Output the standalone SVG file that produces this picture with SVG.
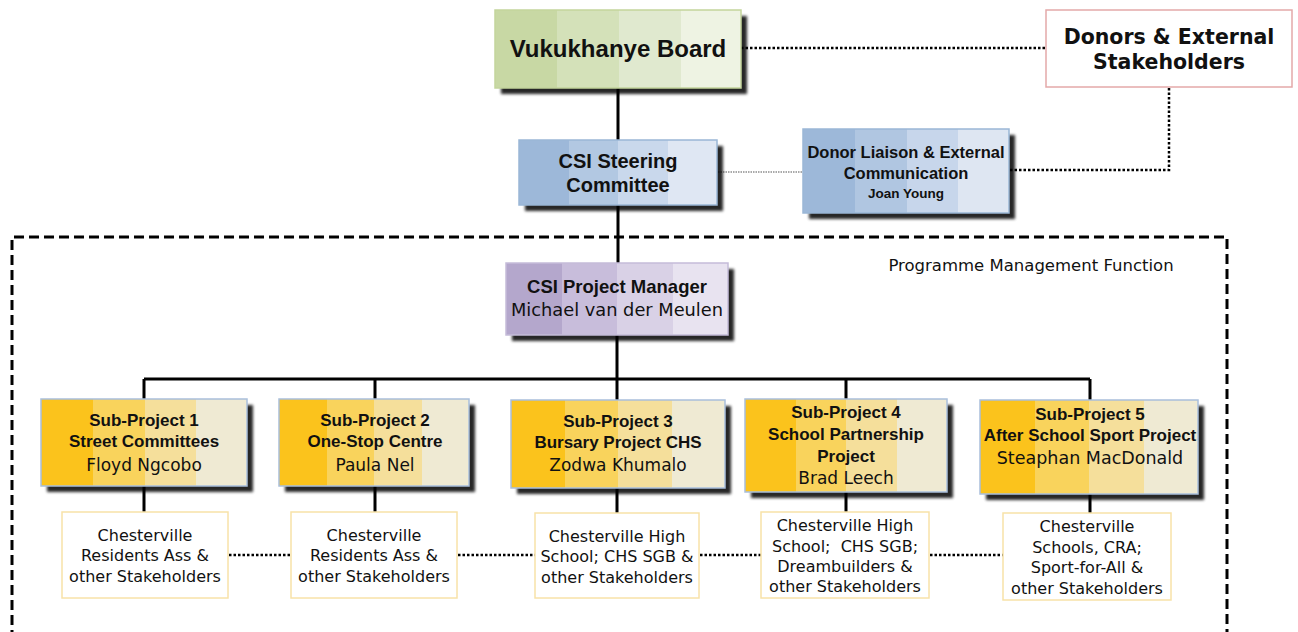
<svg xmlns="http://www.w3.org/2000/svg" width="1298" height="632" viewBox="0 0 1298 632">
<defs>
<filter id="sh" x="-10%" y="-10%" width="130%" height="140%">
<feGaussianBlur in="SourceAlpha" stdDeviation="1.5"/>
<feOffset dx="6" dy="6" result="o"/>
<feComponentTransfer><feFuncA type="linear" slope="0.85"/></feComponentTransfer>
<feMerge><feMergeNode/><feMergeNode in="SourceGraphic"/></feMerge>
</filter>
</defs>
<style>
.b{font-family:"Liberation Sans",Arial,sans-serif;font-weight:bold;fill:#111;text-anchor:middle}
.r{font-family:"DejaVu Sans",Verdana,sans-serif;fill:#111;text-anchor:middle}
.sk{font-family:"DejaVu Sans",Verdana,sans-serif;font-size:16px;fill:#111;text-anchor:middle}
.solid{stroke:#000;stroke-width:3;fill:none}
.dot{stroke:#000;stroke-width:2.5;stroke-dasharray:2.5 2;fill:none}
.g1{fill:#fbc31c}.g2{fill:#f9d35c}.g3{fill:#f5df9b}.g4{fill:#efead3}
.bd{fill:none;stroke:#a9bfdc;stroke-width:1.5}
.stk{fill:#fff;stroke:#f8e2a8;stroke-width:1.5}
</style>
<rect width="1298" height="632" fill="#fff"/>

<g id="connectors">
<path class="solid" d="M618 88V140M618 205V263M617 335V379M144 379H1090M144 379V399M375 379V399M617 379V400M846 379V399M1090 379V400"/>
<path class="solid" d="M144 486V512M375 486V512M617 488V513M846 492V512M1090 494V513"/>
<path class="dot" d="M741 48H1046M1169 88V170H1010"/>
<path d="M718 172H803" stroke="#555" stroke-width="1.2" stroke-dasharray="1.5 1" fill="none"/>
<path class="dot" d="M229 555H291M458 555H535M700 555H761M930 555H1003"/>
<path d="M12 640V237H1227V640" stroke="#000" stroke-width="3" stroke-dasharray="10 5" fill="none"/>
</g>

<g id="board">
<g filter="url(#sh)">
<rect x="495" y="10" width="246" height="78" fill="#c8d8a4"/>
</g>
<rect x="557" y="10" width="62" height="78" fill="#d4e1b9"/>
<rect x="619" y="10" width="62" height="78" fill="#e0e9cf"/>
<rect x="681" y="10" width="60" height="78" fill="#eef3e3"/>
<rect x="495" y="10" width="246" height="78" fill="none" stroke="#c3d59c" stroke-width="1.5"/>
<text class="b" x="618" y="57" font-size="24">Vukukhanye Board</text>
</g>

<g id="donors">
<rect x="1046" y="10" width="246" height="77" fill="#fff" stroke="#e4a9a9" stroke-width="1.5"/>
<text class="r" x="1169" y="44" font-size="20.5" font-weight="bold">Donors &amp; External</text>
<text class="r" x="1169" y="69" font-size="20.5" font-weight="bold">Stakeholders</text>
</g>

<g id="steering">
<g filter="url(#sh)">
<rect x="519" y="140" width="198" height="65" fill="#9db8d9"/>
</g>
<rect x="569" y="140" width="50" height="65" fill="#b2c8e2"/>
<rect x="618" y="140" width="50" height="65" fill="#c9d8ec"/>
<rect x="668" y="140" width="49" height="65" fill="#dfe7f3"/>
<rect x="519" y="140" width="198" height="65" fill="none" stroke="#9ab7d6" stroke-width="1.5"/>
<text class="b" x="618" y="168" font-size="20">CSI Steering</text>
<text class="b" x="618" y="192" font-size="20">Committee</text>
</g>

<g id="liaison">
<g filter="url(#sh)">
<rect x="803" y="129" width="206" height="84" fill="#9db8d9"/>
</g>
<rect x="855" y="129" width="52" height="84" fill="#b0c6e1"/>
<rect x="907" y="129" width="51" height="84" fill="#c7d6eb"/>
<rect x="958" y="129" width="51" height="84" fill="#dee6f2"/>
<rect x="803" y="129" width="206" height="84" fill="none" stroke="#9ab7d6" stroke-width="1.5"/>
<text class="b" x="906" y="158" font-size="16.5">Donor Liaison &amp; External</text>
<text class="b" x="906" y="179" font-size="16.5">Communication</text>
<text class="b" x="906" y="198" font-size="13.5">Joan Young</text>
</g>

<g id="pmf-label">
<text x="1031" y="271" font-family="DejaVu Sans,Verdana,sans-serif" font-size="16.5" fill="#111" text-anchor="middle">Programme Management Function</text>
</g>

<g id="pm">
<g filter="url(#sh)">
<rect x="506" y="263" width="222" height="72" fill="#b4a7cc"/>
</g>
<rect x="562" y="263" width="56" height="72" fill="#c8bddb"/>
<rect x="617" y="263" width="56" height="72" fill="#d9d1e6"/>
<rect x="673" y="263" width="55" height="72" fill="#e8e3f0"/>
<rect x="506" y="263" width="222" height="72" fill="none" stroke="#c5bcd9" stroke-width="1.5"/>
<text class="b" x="617" y="293" font-size="18.5">CSI Project Manager</text>
<text class="r" x="617" y="316" font-size="17.8">Michael van der Meulen</text>
</g>

<g id="sp1">
<g filter="url(#sh)"><rect x="41" y="399" width="206" height="87" class="g1"/></g>
<rect x="93" y="399" width="52" height="87" class="g2"/>
<rect x="145" y="399" width="51" height="87" class="g3"/>
<rect x="196" y="399" width="51" height="87" class="g4"/>
<rect x="41" y="399" width="206" height="87" class="bd"/>
<text class="b" x="144" y="426" font-size="17">Sub-Project 1</text>
<text class="b" x="144" y="447" font-size="17">Street Committees</text>
<text class="r" x="144" y="471" font-size="17">Floyd Ngcobo</text>
</g>

<g id="sp2">
<g filter="url(#sh)"><rect x="279" y="399" width="190" height="87" class="g1"/></g>
<rect x="327" y="399" width="48" height="87" class="g2"/>
<rect x="374" y="399" width="48" height="87" class="g3"/>
<rect x="422" y="399" width="47" height="87" class="g4"/>
<rect x="279" y="399" width="190" height="87" class="bd"/>
<text class="b" x="375" y="426" font-size="17">Sub-Project 2</text>
<text class="b" x="375" y="447" font-size="17">One-Stop Centre</text>
<text class="r" x="375" y="471" font-size="17">Paula Nel</text>
</g>

<g id="sp3">
<g filter="url(#sh)"><rect x="511" y="400" width="214" height="88" class="g1"/></g>
<rect x="565" y="400" width="54" height="88" class="g2"/>
<rect x="618" y="400" width="54" height="88" class="g3"/>
<rect x="672" y="400" width="53" height="88" class="g4"/>
<rect x="511" y="400" width="214" height="88" class="bd"/>
<text class="b" x="618" y="427" font-size="17">Sub-Project 3</text>
<text class="b" x="618" y="448" font-size="17">Bursary Project CHS</text>
<text class="r" x="618" y="471" font-size="17">Zodwa Khumalo</text>
</g>

<g id="sp4">
<g filter="url(#sh)"><rect x="745" y="399" width="202" height="93" class="g1"/></g>
<rect x="796" y="399" width="51" height="93" class="g2"/>
<rect x="846" y="399" width="51" height="93" class="g3"/>
<rect x="897" y="399" width="50" height="93" class="g4"/>
<rect x="745" y="399" width="202" height="93" class="bd"/>
<text class="b" x="846" y="418" font-size="17">Sub-Project 4</text>
<text class="b" x="846" y="440" font-size="17">School Partnership</text>
<text class="b" x="846" y="462" font-size="17">Project</text>
<text class="r" x="846" y="484" font-size="17">Brad Leech</text>
</g>

<g id="sp5">
<g filter="url(#sh)"><rect x="980" y="400" width="218" height="94" class="g1"/></g>
<rect x="1035" y="400" width="55" height="94" class="g2"/>
<rect x="1089" y="400" width="55" height="94" class="g3"/>
<rect x="1144" y="400" width="54" height="94" class="g4"/>
<rect x="980" y="400" width="218" height="94" class="bd"/>
<text class="b" x="1090" y="420" font-size="17">Sub-Project 5</text>
<text class="b" x="1090" y="441" font-size="17">After School Sport Project</text>
<text class="r" x="1090" y="464" font-size="17.5">Steaphan MacDonald</text>
</g>

<g id="st1">
<rect x="62" y="512" width="166" height="86" class="stk"/>
<text class="sk" x="145" y="541">Chesterville</text>
<text class="sk" x="145" y="561">Residents Ass &amp;</text>
<text class="sk" x="145" y="582">other Stakeholders</text>
</g>

<g id="st2">
<rect x="291" y="512" width="166" height="86" class="stk"/>
<text class="sk" x="374" y="541">Chesterville</text>
<text class="sk" x="374" y="561">Residents Ass &amp;</text>
<text class="sk" x="374" y="582">other Stakeholders</text>
</g>

<g id="st3">
<rect x="535" y="513" width="164" height="85" class="stk"/>
<text class="sk" x="617" y="542">Chesterville High</text>
<text class="sk" x="617" y="562">School; CHS SGB &amp;</text>
<text class="sk" x="617" y="583">other Stakeholders</text>
</g>

<g id="st4">
<rect x="761" y="512" width="168" height="86" class="stk"/>
<text class="sk" x="845" y="531">Chesterville High</text>
<text class="sk" x="845" y="552" xml:space="preserve">School;  CHS SGB;</text>
<text class="sk" x="845" y="572">Dreambuilders &amp;</text>
<text class="sk" x="845" y="592">other Stakeholders</text>
</g>

<g id="st5">
<rect x="1003" y="513" width="168" height="87" class="stk"/>
<text class="sk" x="1087" y="532">Chesterville</text>
<text class="sk" x="1087" y="553">Schools, CRA;</text>
<text class="sk" x="1087" y="573">Sport-for-All &amp;</text>
<text class="sk" x="1087" y="594">other Stakeholders</text>
</g>
</svg>
